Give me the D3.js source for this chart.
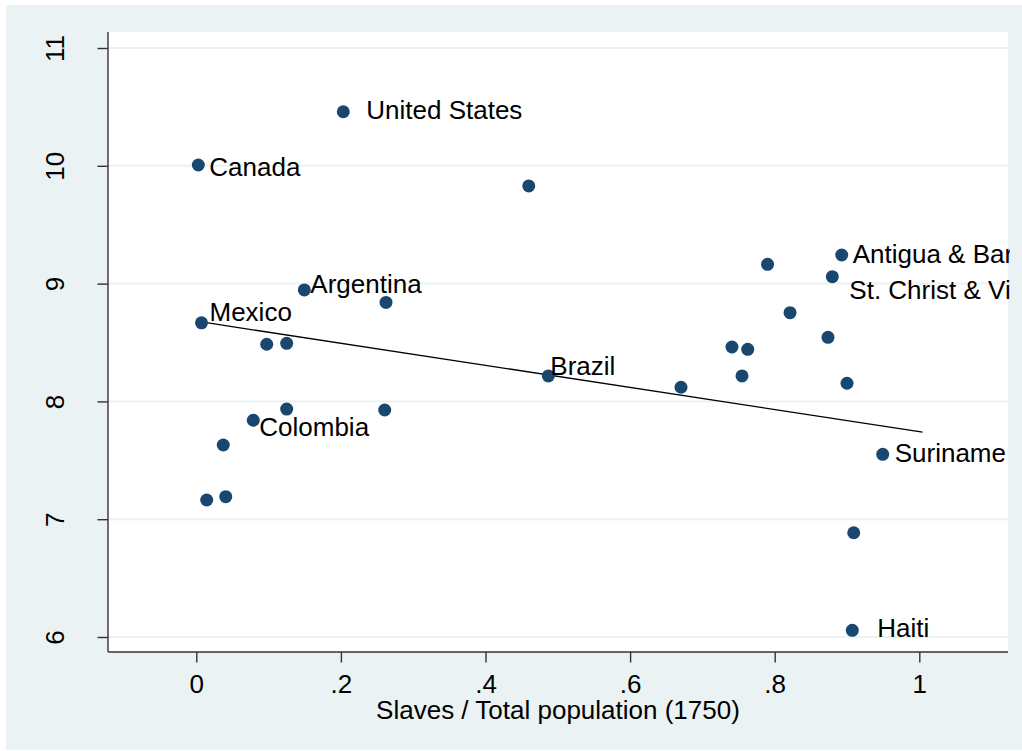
<!DOCTYPE html>
<html lang="en">
<head>
<meta charset="UTF-8">
<title>Slaves share vs income</title>
<script src="https://d3js.org/d3.v7.min.js"></script>
<style>
    body, html { margin: 0; padding: 0; background: #fff; }
    svg { display: block; }
    text { font-family: 'Liberation Sans', Arial, sans-serif; fill: #000; }
</style>
</head>
<body>
<svg id="chart" width="1022" height="751"></svg>
<script>

// Slaves / total population (1750) and the vertical value for each country
const slaveShare = [0.2033, 0.0028, 0.4598, 0.0072, 0.0974, 0.1250, 0.1250, 0.0788, 0.2606, 0.0373,
                    0.0144, 0.0407, 0.1494, 0.2624, 0.7901, 0.8927, 0.8797, 0.8212, 0.8737, 0.7409,
                    0.7627, 0.7548, 0.6704, 0.9000, 0.4869, 0.9494, 0.9093, 0.9073];
const yValue     = [10.459, 10.007, 9.829, 8.667, 8.485, 8.493, 7.935, 7.840, 7.927, 7.630,
                    7.163, 7.191, 8.946, 8.840, 9.164, 9.243, 9.059, 8.753, 8.544, 8.462,
                    8.442, 8.216, 8.120, 8.154, 8.216, 7.551, 6.885, 6.057];
const names      = ["United States", "Canada", "", "Mexico", "", "", "", "Colombia", "", "",
                    "", "", "Argentina", "", "", "Antigua & Barb", "St. Christ & Vin", "", "", "",
                    "", "", "", "", "Brazil", "Suriname", "", "Haiti"];

const xTicks = [0, 0.2, 0.4, 0.6, 0.8, 1];
const xTickLabels = ["0", ".2", ".4", ".6", ".8", "1"];
const yTicks = [6, 7, 8, 9, 10, 11];
const yTickLabels = ["6", "7", "8", "9", "10", "11"];

// linear fit as drawn
const fitIntercept = 8.681;
const fitSlope = -0.937;
const fitRange = [0.0072, 1.0045];

// where each marker label sits, relative to its marker
const labelOffset = {
    "United States": [23, 7],
    "Canada": [11, 11],
    "Mexico": [8, -2],
    "Argentina": [6, 3],
    "Colombia": [6, 16],
    "Brazil": [2, -1],
    "Antigua & Barb": [11, 8],
    "St. Christ & Vin": [17, 22],
    "Suriname": [12, 8],
    "Haiti": [25, 7]
};

const fontSize = 26;
const svg = d3.select("#chart");
const plot = {left: 108, top: 32, right: 1008, bottom: 652};

const x = d3.scaleLinear().domain([0, 1]).range([196.3, 919.3]);
const y = d3.scaleLinear().domain([6, 11]).range([637, 48]);

// outer graph region
svg.append("rect")
    .attr("x", 6).attr("y", 5).attr("width", 1022 - 6).attr("height", 745)
    .attr("fill", "#eaf2f3");

// plot region
svg.append("rect")
    .attr("x", plot.left).attr("y", plot.top)
    .attr("width", plot.right - plot.left).attr("height", plot.bottom - plot.top)
    .attr("fill", "#fff");

svg.append("clipPath").attr("id", "clip")
    .append("rect")
    .attr("x", plot.left).attr("y", plot.top)
    .attr("width", plot.right - plot.left + 2).attr("height", plot.bottom - plot.top);

// gridlines
svg.append("g").selectAll("line")
    .data(yTicks)
    .join("line")
    .attr("x1", plot.left + 1).attr("x2", plot.right)
    .attr("y1", d => y(d)).attr("y2", d => y(d))
    .attr("stroke", "#eaf2f3").attr("stroke-width", 2);

// y axis
const yAxis = svg.append("g")
    .attr("transform", `translate(${plot.left},0)`)
    .call(d3.axisLeft(y).tickValues(yTicks).tickSize(10.5).tickSizeOuter(0)
        .tickFormat((d, i) => yTickLabels[i]));
yAxis.select(".domain").attr("d", `M0,${plot.top}V${plot.bottom}`);
yAxis.selectAll("text")
    .attr("font-size", fontSize).attr("font-family", "'Liberation Sans', Arial, sans-serif")
    .attr("x", null).attr("dy", null)
    .attr("text-anchor", "middle")
    .attr("transform", "translate(-44.5,0) rotate(-90)");

// x axis
const xAxis = svg.append("g")
    .attr("transform", `translate(0,${plot.bottom})`)
    .call(d3.axisBottom(x).tickValues(xTicks).tickSize(10.5).tickSizeOuter(0)
        .tickFormat((d, i) => xTickLabels[i]));
xAxis.select(".domain").attr("d", `M${plot.left},0H${plot.right}`);
xAxis.selectAll("text")
    .attr("font-size", fontSize).attr("font-family", "'Liberation Sans', Arial, sans-serif")
    .attr("y", 40.5).attr("dy", null);

svg.selectAll(".domain, .tick line")
    .attr("stroke", "#333").attr("stroke-width", 1.4);

// axis title
svg.append("text")
    .attr("x", (plot.left + plot.right) / 2).attr("y", 718.5)
    .attr("text-anchor", "middle").attr("font-size", fontSize)
    .text("Slaves / Total population (1750)");

const layer = svg.append("g").attr("clip-path", "url(#clip)");

// fitted line
layer.append("line")
    .attr("x1", x(fitRange[0])).attr("y1", y(fitIntercept + fitSlope * fitRange[0]))
    .attr("x2", x(fitRange[1])).attr("y2", y(fitIntercept + fitSlope * fitRange[1]))
    .attr("stroke", "#000").attr("stroke-width", 1.3);

// markers
layer.append("g").selectAll("circle")
    .data(d3.range(slaveShare.length))
    .join("circle")
    .attr("cx", i => x(slaveShare[i]))
    .attr("cy", i => y(yValue[i]))
    .attr("r", 6.5)
    .attr("fill", "#1a476f");

// marker labels
layer.append("g").selectAll("text")
    .data(d3.range(slaveShare.length).filter(i => names[i]))
    .join("text")
    .attr("x", i => x(slaveShare[i]) + labelOffset[names[i]][0])
    .attr("y", i => y(yValue[i]) + labelOffset[names[i]][1])
    .attr("font-size", fontSize)
    .text(i => names[i]);

</script>
</body>
</html>
